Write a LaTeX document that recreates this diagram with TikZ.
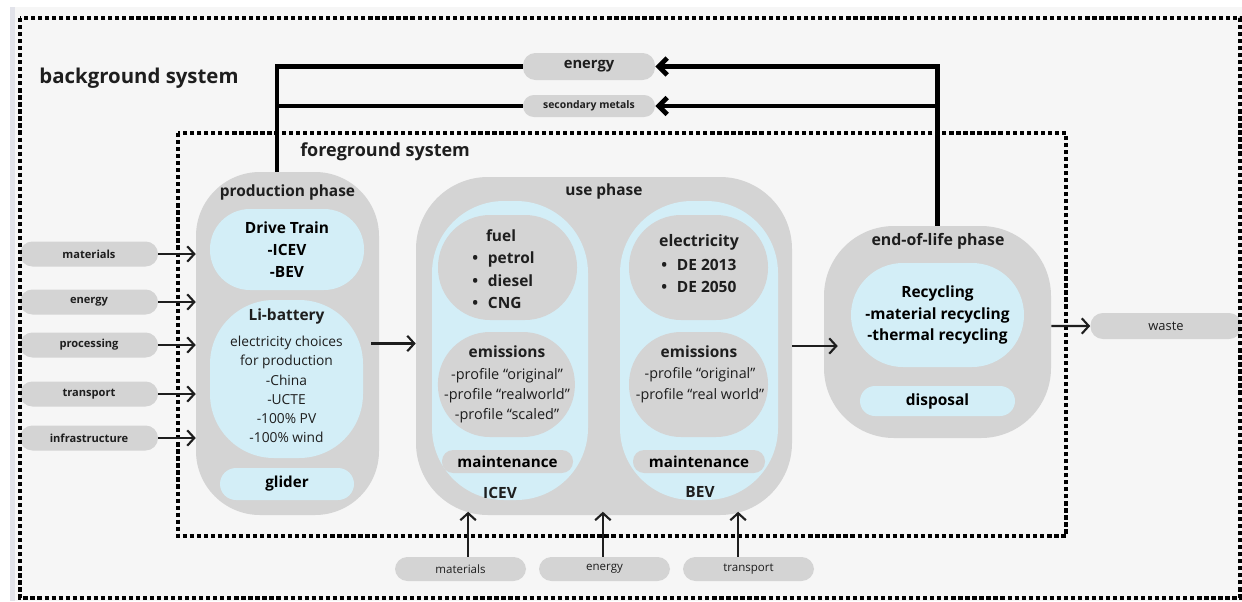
\documentclass[tikz,border=0pt]{standalone}
\usepackage{fontspec}
\setmainfont{Open Sans}
\usetikzlibrary{arrows.meta}

\definecolor{panelgray}{HTML}{F6F6F6}
\definecolor{stripgray}{HTML}{E2E3EA}
\definecolor{boxgray}{HTML}{D4D4D4}
\definecolor{lightblue}{HTML}{D3EEF7}
\definecolor{textblack}{HTML}{1E1E1E}

\tikzset{
  pill/.style={fill=boxgray, rounded corners=.31cm, minimum width=3.45cm, minimum height=.625cm,
    inner sep=0pt, text=textblack, font=\fontsize{7.9}{9}\selectfont\bfseries},
  phase/.style={fill=boxgray, rounded corners=1.6cm, inner sep=0pt},
  bluebox/.style={fill=lightblue, inner sep=0pt, align=center},
  graybox/.style={fill=boxgray, inner sep=0pt, align=center},
  heading/.style={text=textblack, inner sep=0pt, font=\fontsize{11}{13}\selectfont\bfseries},
  bodytext/.style={text=textblack, inner sep=0pt, align=center, font=\fontsize{9.8}{13.6}\selectfont},
  frame/.style={line width=3pt, dash pattern=on 3pt off 2pt},
  flow/.style={-{Straight Barb[length=5pt,width=11pt]}, line width=1.5pt, draw=textblack},
  link/.style={line width=3.4pt},
  linkarrow/.style={-{Straight Barb[length=6pt,width=12pt]}, line width=3.4pt},
}

\begin{document}
\begin{tikzpicture}
  \useasboundingbox (0,0) rectangle (31.05,-15.025);
  % Draw the background
  \fill[white] (0,0) rectangle (31.05,-15.025);
  \fill[panelgray] (0.3,-0.175) rectangle (31.05,-15.025);
  \fill[stripgray] (0.25,-0.175) rectangle (0.38,-15.025);

  % Inputs from the background system
  \node[pill] (inmat) at (2.225,-6.35) {materials};
  \node[pill] (inen) at (2.225,-7.55) {energy};
  \node[pill] (inproc) at (2.225,-8.625) {processing};
  \node[pill] (intrans) at (2.225,-9.85) {transport};
  \node[pill] (ininfra) at (2.225,-10.95) {infrastructure};

  \node[pill, minimum width=3.3cm, minimum height=.675cm, font=\fontsize{10.5}{12}\selectfont\bfseries] (topen) at (14.725,-1.6625) {energy};
  \node[pill, minimum width=3.3cm, minimum height=.55cm, rounded corners=.27cm, font=\fontsize{7.4}{8}\selectfont\bfseries] (secmet) at (14.725,-2.65) {secondary metals};

  \node[pill, minimum width=3.275cm, minimum height=.6cm, font=\fontsize{8.2}{9}\selectfont] (botmat) at (11.5125,-14.225) {materials};
  \node[pill, minimum width=3.275cm, minimum height=.6cm, font=\fontsize{8.2}{9}\selectfont] (boten) at (15.1125,-14.225) {energy};
  \node[pill, minimum width=3.275cm, minimum height=.6cm, font=\fontsize{8.2}{9}\selectfont] (bottrans) at (18.7125,-14.225) {transport};

  \node[pill, minimum width=3.775cm, minimum height=.65cm, font=\fontsize{9.2}{10}\selectfont] (waste) at (29.15,-8.15) {waste};

  % Production phase
  \node[phase, minimum width=4.575cm, minimum height=8.575cm] (prod) at (7.1875,-8.5875) {};
  \node[heading] (prodtitle) at (7.1875,-4.8) {production phase};
  \node[bluebox, rounded corners=1cm, minimum width=3.85cm, minimum height=2.025cm,
    font=\fontsize{11}{15.6}\selectfont\bfseries] (drive) at (7.175,-6.2375) {Drive Train\\-ICEV\\-BEV};
  \node[bluebox, rounded corners=1.6cm, minimum width=3.825cm, minimum height=3.95cm] (battery) at (7.1625,-9.475) {};
  \node[heading] (battitle) at (7.1625,-7.9) {Li-battery};
  \node[bodytext] (battext) at (7.1625,-9.7375) {electricity choices\\for production\\-China\\-UCTE\\-100\% PV\\-100\% wind};
  \node[bluebox, rounded corners=.4cm, minimum width=3.35cm, minimum height=.8cm,
    font=\fontsize{10.8}{12}\selectfont\bfseries] (glider) at (7.175,-12.1) {glider};

  % Use phase
  \node[phase, rounded corners=1.8cm, minimum width=9.4cm, minimum height=8.45cm] (use) at (15.1,-8.65) {};
  \node[heading] (usetitle) at (15.1,-4.775) {use phase};

  \node[bluebox, rounded corners=1.8cm, minimum width=3.9cm, minimum height=7.475cm] (icev) at (12.75,-8.7625) {};
  \node[graybox, rounded corners=1.3cm, minimum width=3.475cm, minimum height=2.625cm] (fuel) at (12.6875,-6.6875) {};
  \node[heading] (fueltitle) at (12.525,-5.9) {fuel};
  \node[heading, anchor=west, align=left, font=\fontsize{11}{16}\selectfont\bfseries] (fuellist) at (11.8,-7.0125)
    {\textbullet\hspace{7pt}petrol\\\textbullet\hspace{7pt}diesel\\\textbullet\hspace{7pt}CNG};
  \node[graybox, rounded corners=1.3cm, minimum width=3.425cm, minimum height=2.625cm] (emicev) at (12.66,-9.6125) {};
  \node[heading] (emicevtitle) at (12.675,-8.8) {emissions};
  \node[bodytext, font=\fontsize{10.3}{14.4}\selectfont] (emicevtext) at (12.675,-9.8875) {-profile “original”\\-profile “realworld”\\-profile “scaled”};
  \node[graybox, rounded corners=.28cm, minimum width=3.275cm, minimum height=.575cm,
    font=\fontsize{10.8}{12}\selectfont\bfseries] (mainicev) at (12.6875,-11.5375) {maintenance};
  \node[heading] (icevlabel) at (12.5,-12.325) {ICEV};

  \node[bluebox, rounded corners=1.8cm, minimum width=3.95cm, minimum height=7.475cm] (bev) at (17.475,-8.7625) {};
  \node[graybox, rounded corners=1.3cm, minimum width=3.475cm, minimum height=2.625cm] (elec) at (17.4625,-6.6875) {};
  \node[heading, font=\fontsize{11.3}{13}\selectfont\bfseries] (electitle) at (17.475,-6.05) {electricity};
  \node[heading, anchor=west, align=left, font=\fontsize{11}{16}\selectfont\bfseries] (eleclist) at (16.525,-6.9)
    {\textbullet\hspace{7pt}DE 2013\\\textbullet\hspace{7pt}DE 2050};
  \node[graybox, rounded corners=1.3cm, minimum width=3.475cm, minimum height=2.625cm] (embev) at (17.4625,-9.6125) {};
  \node[heading] (embevtitle) at (17.475,-8.8) {emissions};
  \node[bodytext, font=\fontsize{10.2}{14.8}\selectfont] (embevtext) at (17.5,-9.6375) {-profile “original”\\-profile “real world”};
  \node[graybox, rounded corners=.28cm, minimum width=3.3cm, minimum height=.575cm,
    font=\fontsize{10.8}{12}\selectfont\bfseries] (mainbev) at (17.475,-11.5375) {maintenance};
  \node[heading] (bevlabel) at (17.5,-12.3) {BEV};

  % End-of-life phase
  \node[phase, rounded corners=1.75cm, minimum width=5.675cm, minimum height=5.3cm] (eol) at (23.4375,-8.3) {};
  \node[heading, font=\fontsize{11.3}{13}\selectfont\bfseries] (eoltitle) at (23.45,-6.025) {end-of-life phase};
  \node[bluebox, rounded corners=1.3cm, minimum width=4.325cm, minimum height=2.6cm,
    font=\fontsize{11}{15.5}\selectfont\bfseries] (recycling) at (23.4375,-7.875)
    {Recycling\\-material recycling\\-thermal recycling};
  \node[bluebox, rounded corners=.375cm, minimum width=3.875cm, minimum height=.75cm,
    font=\fontsize{11}{12}\selectfont\bfseries] (disposal) at (23.4375,-10.025) {disposal};

  % System titles
  \node[heading, anchor=west, font=\fontsize{14.5}{17}\selectfont\bfseries] (bgtitle) at (0.98,-1.95) {background system};
  \node[heading, anchor=west, font=\fontsize{12.8}{15}\selectfont\bfseries] (fgtitle) at (7.5,-3.8) {foreground system};

  % Draw the system borders
  \draw[frame] (0.5,-0.45) rectangle (31.0,-14.95);
  \draw[frame] (4.45,-3.325) rectangle (26.65,-13.4);

  % Draw the flows
  \foreach \src in {inmat, inen, inproc, intrans, ininfra}
    \draw[flow] (\src.east) -- (\src.east -| prod.west);
  \draw[flow] ([xshift=-.2cm]prod.east) -- (prod.east -| use.west);
  \draw[flow] (use.east) -- ([xshift=.35cm]use.east -| eol.west);
  \draw[flow] ([yshift=.15cm]eol.east) -- (waste.west);
  \draw[flow, shorten >=3pt] ([xshift=.19cm]botmat.north) -- ([xshift=.19cm,yshift=1.23cm]botmat.north);
  \draw[flow, shorten >=3pt] ([xshift=-.04cm]boten.north) -- ([xshift=-.04cm,yshift=1.23cm]boten.north);
  \draw[flow, shorten >=3pt] ([xshift=-.26cm]bottrans.north) -- ([xshift=-.26cm,yshift=1.23cm]bottrans.north);

  % Draw the links to the background system
  \coordinate (produp) at ([xshift=-.26cm]prod.north);
  \draw[link] (produp) |- (topen.west);
  \draw[link] (secmet.west) -| (produp);
  \draw[linkarrow] (eol.north) |- (topen.east);
  \draw[linkarrow] (eol.north) |- (secmet.east);
\end{tikzpicture}
\end{document}
